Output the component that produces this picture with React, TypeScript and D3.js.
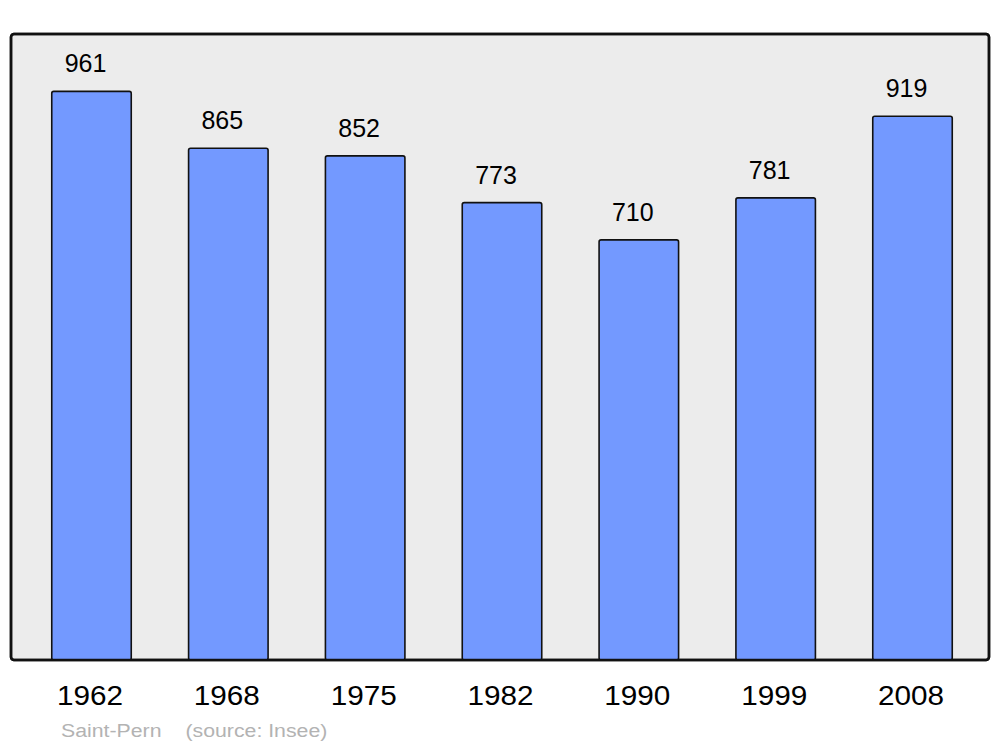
import React from "react";
import * as d3 from "d3";

const years = ["1962", "1968", "1975", "1982", "1990", "1999", "2008"];
const population = [961, 865, 852, 773, 710, 781, 919];
const commune = "Saint-Pern";
const source = "(source: Insee)";

export default function App() {
  const W = 1000, H = 747;
  const panel = { x: 11, y: 34, w: 978, h: 626 };
  const y = d3.scaleLinear().domain([0, 1058]).range([panel.y + panel.h, panel.y]);
  const x = d3.scalePoint<string>().domain(years).range([91.5, 912.5]);
  const barW = 79.5;
  const font = "'Liberation Sans', Arial, sans-serif";
  return (
    <svg width={W} height={H} style={{ position: "absolute", left: 0, top: 0 }}>
      <rect x={0} y={0} width={W} height={H} fill="#ffffff" />
      <rect x={panel.x} y={panel.y} width={panel.w} height={panel.h} rx={3} fill="#ececec" stroke="#111" strokeWidth={2.5} />
      {years.map((yr, i) => {
        const cx = x(yr)!;
        const top = y(population[i]);
        return (
          <g key={yr}>
            <rect x={cx - barW / 2} y={top} width={barW} height={y(0) - top} rx={2} fill="#7399ff" stroke="#111" strokeWidth={1.6} />
            <text x={cx - 6} y={top - 19} textAnchor="middle" fontFamily={font} fontSize={25} fill="#000">{population[i]}</text>
            <text transform={`translate(${cx - 1.5},705) scale(1.1,1)`} textAnchor="middle" fontFamily={font} fontSize={27} fill="#000">{yr}</text>
          </g>
        );
      })}
      <rect x={panel.x} y={panel.y} width={panel.w} height={panel.h} rx={3} fill="none" stroke="#111" strokeWidth={2.5} />
      <text transform="translate(61,737) scale(1.12,1)" fontFamily={font} fontSize={19} fill="#b3b3b3">{commune}</text>
      <text transform="translate(185.5,737) scale(1.12,1)" fontFamily={font} fontSize={19} fill="#b3b3b3">{source}</text>
    </svg>
  );
}
